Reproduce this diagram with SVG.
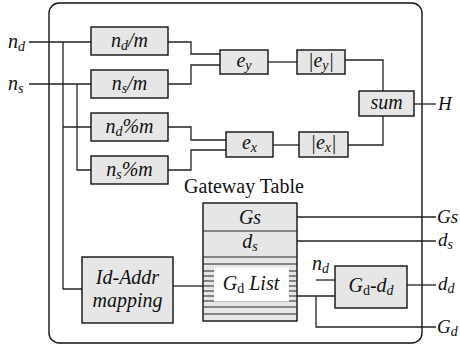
<svg xmlns="http://www.w3.org/2000/svg" width="460" height="349" viewBox="0 0 460 349">
  <style>
    .frame { fill: none; stroke: #111; stroke-width: 1.4; }
    .box { fill: #e6e6e6; stroke: #111; stroke-width: 1.4; }
    .wire { fill: none; stroke: #222; stroke-width: 1.3; }
    .stripe { stroke: #222; stroke-width: 1.1; }
    .t { font-family: 'Liberation Serif', serif; font-size: 20px; fill: #111; }
    .it { font-style: italic; }
    .mid { text-anchor: middle; }
    .sub { font-size: 14px; }
    .edge { font-size: 19px; }
  </style>

  <!-- enclosing unit -->
  <rect class="frame" x="49" y="3" width="373" height="340" rx="10"/>

  <!-- connectors -->
  <g id="connectors">
    <path class="wire" d="M29,42 H91 M63,42 V289 H82 M63,127 H91"/>
    <path class="wire" d="M29,84 H91 M77,84 V170 H91"/>
    <path class="wire" d="M168,42 H191 V54 H220"/>
    <path class="wire" d="M168,84 H191 V65 H220"/>
    <path class="wire" d="M168,127 H191 V140 H226"/>
    <path class="wire" d="M168,170 H191 V150 H226"/>
    <path class="wire" d="M268,62 H297"/>
    <path class="wire" d="M345,60 H383 V91"/>
    <path class="wire" d="M273,145 H299"/>
    <path class="wire" d="M348,145 H383 V116"/>
    <path class="wire" d="M414,104 H436"/>
    <path class="wire" d="M173,286 H203"/>
    <path class="wire" d="M297,217 H436"/>
    <path class="wire" d="M297,241 H436"/>
    <path class="wire" d="M316,280 H335"/>
    <path class="wire" d="M290,296 H335 M316,296 V327 H436"/>
    <path class="wire" d="M407,285 H436"/>
  </g>

  <!-- inputs and outputs -->
  <g id="terminals">
    <text class="t it" x="8" y="48">n<tspan class="sub" dy="3">d</tspan></text>
    <text class="t it" x="8" y="90">n<tspan class="sub" dy="3">s</tspan></text>
    <text class="t it edge" x="438" y="110">H</text>
    <text class="t it edge" x="437" y="223">Gs</text>
    <text class="t it edge" x="438" y="246">d<tspan class="sub" dy="3">s</tspan></text>
    <text class="t it edge" x="438" y="290">d<tspan class="sub" dy="3">d</tspan></text>
    <text class="t it edge" x="437" y="333">G<tspan class="sub" dy="3">d</tspan></text>
    <text class="t it" x="312" y="270">n<tspan class="sub" dy="3">d</tspan></text>
  </g>

  <g id="nd_div">
    <rect class="box" x="91" y="27" width="77" height="28"/>
    <text class="t it mid" x="129.5" y="47">n<tspan class="sub" dy="3">d</tspan><tspan dy="-3">/m</tspan></text>
  </g>
  <g id="ns_div">
    <rect class="box" x="91" y="70" width="77" height="28"/>
    <text class="t it mid" x="129.5" y="90">n<tspan class="sub" dy="3">s</tspan><tspan dy="-3">/m</tspan></text>
  </g>
  <g id="nd_mod">
    <rect class="box" x="91" y="113" width="77" height="28"/>
    <text class="t it mid" x="129.5" y="133">n<tspan class="sub" dy="3">d</tspan><tspan dy="-3">%m</tspan></text>
  </g>
  <g id="ns_mod">
    <rect class="box" x="91" y="156" width="77" height="28"/>
    <text class="t it mid" x="129.5" y="176">n<tspan class="sub" dy="3">s</tspan><tspan dy="-3">%m</tspan></text>
  </g>

  <g id="ey">
    <rect class="box" x="220" y="50" width="48" height="24"/>
    <text class="t it mid" x="244" y="67">e<tspan class="sub" dy="3">y</tspan></text>
  </g>
  <g id="abs_ey">
    <rect class="box" x="297" y="50" width="48" height="24"/>
    <text class="t it mid" x="321" y="67">|e<tspan class="sub" dy="3">y</tspan><tspan dy="-3">|</tspan></text>
  </g>
  <g id="ex">
    <rect class="box" x="226" y="132" width="47" height="25"/>
    <text class="t it mid" x="249.5" y="149">e<tspan class="sub" dy="3">x</tspan></text>
  </g>
  <g id="abs_ex">
    <rect class="box" x="299" y="132" width="49" height="25"/>
    <text class="t it mid" x="323.5" y="149">|e<tspan class="sub" dy="3">x</tspan><tspan dy="-3">|</tspan></text>
  </g>
  <g id="sum">
    <rect class="box" x="359" y="91" width="55" height="25"/>
    <text class="t it mid" x="386.5" y="109">sum</text>
  </g>

  <g id="id_addr">
    <rect class="box" x="82" y="257" width="91" height="66"/>
    <text class="t it mid" x="127.5" y="284">Id-Addr</text>
    <text class="t it mid" x="127.5" y="307">mapping</text>
  </g>

  <g id="gateway_table">
    <text class="t mid" x="244" y="193">Gateway Table</text>
    <rect class="box" x="203" y="203" width="94" height="118"/>
    <line class="stripe" x1="203" y1="231" x2="297" y2="231"/>
    <line class="stripe" x1="203" y1="257" x2="297" y2="257"/>
    <path class="stripe" d="M203,264 H297 M203,271 H297 M203,276 H297 M203,281 H297 M203,286 H297 M203,291 H297 M203,296 H297 M203,301 H297 M203,307 H297 M203,314 H297"/>
    <text class="t it mid" x="250" y="224">Gs</text>
    <text class="t it mid" x="250" y="248">d<tspan class="sub" dy="3">s</tspan></text>
    <rect x="214" y="267.5" width="75" height="34" fill="#fff"/>
    <text class="t it mid" x="251" y="290">G<tspan class="sub" dy="3" font-style="normal">d</tspan><tspan dy="-3"> List</tspan></text>
  </g>

  <g id="gd_dd">
    <rect class="box" x="335" y="266" width="72" height="42"/>
    <text class="t it mid" x="371" y="292">G<tspan class="sub" dy="3" font-style="normal">d</tspan><tspan dy="-3">-d</tspan><tspan class="sub" dy="3">d</tspan></text>
  </g>
</svg>
